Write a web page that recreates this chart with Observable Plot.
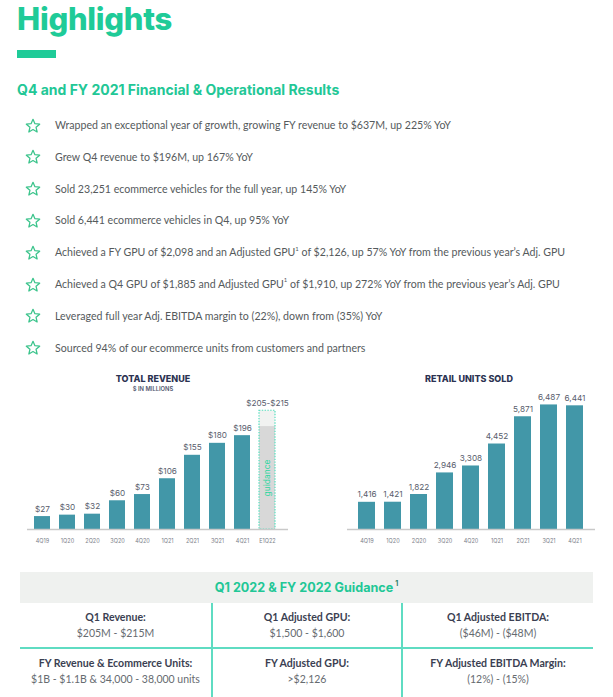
<!DOCTYPE html>
<html>
<head>
<meta charset="utf-8">
<script src="https://cdn.jsdelivr.net/npm/d3@7"></script>
<script src="https://cdn.jsdelivr.net/npm/@observablehq/plot@0.6"></script>
<style>
  html, body { margin: 0; padding: 0; background: #fff; }
  #root { position: relative; width: 613px; height: 697px; overflow: hidden; font-family: Lato, "Open Sans", sans-serif; }
  .abs { position: absolute; }
  .title { left: 17px; top: 2px; line-height: 34px; font-family: Inter, sans-serif; font-weight: 800; font-size: 31px; color: #1fcb98; letter-spacing: -0.3px; }
  .bar { left: 17px; top: 50px; width: 39px; height: 8px; background: #1fcb98; }
  .sub { left: 17px; top: 81px; line-height: 18px; font-family: Inter, sans-serif; font-weight: 700; font-size: 14px; color: #22c796; }
  .bullet { left: 55px; font-size: 10.6px; color: #555a5c; line-height: 16px; white-space: nowrap; }
  .bullet sup { font-size: 6px; line-height: 0; position: relative; top: -1px; }
  .star { left: 25px; width: 16px; height: 16px; }
  .ctitle { font-family: Inter, sans-serif; font-weight: 800; font-size: 9px; color: #2c3352; text-align: center; width: 200px; line-height: 11px; }
  .csub { font-family: Inter, sans-serif; font-weight: 600; font-size: 5.8px; color: #50566e; text-align: center; width: 200px; line-height: 8px; }
  .thead { left: 20px; top: 572px; width: 573px; height: 31px; background: #eff1ef; }
  .theadtext { left: 20px; top: 579px; width: 573px; text-align: center; font-family: Inter, sans-serif; font-weight: 700; font-size: 12.6px; color: #22c796; }
  .theadtext sup { font-size: 7px; color: #2c7d6a; vertical-align: 6px; margin-left: 2px; }
  .vline { width: 2px; background: #5fdcc2; }
  .hline { height: 2px; background: #5fdcc2; }
  .cell { text-align: center; line-height: 15.5px; }
  .cell b { display: block; font-size: 10.6px; color: #3b3f52; font-weight: 700; }
  .cell span { display: block; font-size: 10.5px; color: #666b70; }
</style>
</head>
<body>
<div id="root"></div>
<script>
// ---------- data ----------
const bullets = [
  "Wrapped an exceptional year of growth, growing FY revenue to $637M, up 225% YoY",
  "Grew Q4 revenue to $196M, up 167% YoY",
  "Sold 23,251 ecommerce vehicles for the full year, up 145% YoY",
  "Sold 6,441 ecommerce vehicles in Q4, up 95% YoY",
  "Achieved a FY GPU of $2,098 and an Adjusted GPU<sup>1</sup> of $2,126, up 57% YoY from the previous year’s Adj. GPU",
  "Achieved a Q4 GPU of $1,885 and Adjusted GPU<sup>1</sup> of $1,910, up 272% YoY from the previous year’s Adj. GPU",
  "Leveraged full year Adj. EBITDA margin to (22%), down from (35%) YoY",
  "Sourced 94% of our ecommerce units from customers and partners"
];
const quarters = ["4Q19", "1Q20", "2Q20", "3Q20", "4Q20", "1Q21", "2Q21", "3Q21", "4Q21"];
const revenue = [27, 30, 32, 60, 73, 106, 155, 180, 196];
const guidanceCategory = "E1Q22";
const guidanceRange = [205, 215];
const guidanceLabel = "$205-$215";
const guidanceBoxTop = 248;
const units = [1416, 1421, 1822, 2946, 3308, 4452, 5871, 6487, 6441];
const tableHeaders = ["Q1 Revenue:", "Q1 Adjusted GPU:", "Q1 Adjusted EBITDA:", "FY Revenue & Ecommerce Units:", "FY Adjusted GPU:", "FY Adjusted EBITDA Margin:"];
const tableValues = ["$205M - $215M", "$1,500 - $1,600", "($46M) - ($48M)", "$1B - $1.1B & 34,000 - 38,000 units", ">$2,126", "(12%) - (15%)"];

// ---------- layout ----------
const root = document.getElementById("root");
function add(cls, html, style) {
  const d = document.createElement("div");
  d.className = "abs " + cls;
  if (html != null) d.innerHTML = html;
  Object.assign(d.style, style || {});
  root.appendChild(d);
  return d;
}
add("title", "Highlights");
add("bar");
add("sub", "Q4 and FY 2021 Financial &amp; Operational Results");

const starSvg = '<svg width="16" height="16" viewBox="0 0 24 24"><polygon points="12,2 14.9,8.6 22,9.3 16.6,14 18.2,21 12,17.3 5.8,21 7.4,14 2,9.3 9.1,8.6" fill="none" stroke="#3cc48c" stroke-width="1.9" stroke-linejoin="round"/></svg>';
bullets.forEach((b, i) => {
  const yc = 125.5 + i * 31.8;
  add("star", starSvg, { top: (yc - 8) + "px" });
  add("bullet", b, { top: (yc - 8.5) + "px" });
});

// chart titles
add("ctitle", "TOTAL REVENUE", { left: (153 - 100) + "px", top: "373px" });
add("csub", "$ IN MILLIONS", { left: (153 - 100) + "px", top: "385px" });
add("ctitle", "RETAIL UNITS SOLD", { left: (469 - 100) + "px", top: "373px" });

const font = "Inter, sans-serif";
const revData = quarters.map((q, i) => ({ q, v: revenue[i] }));
const guide = [{ q: guidanceCategory, lo: guidanceRange[0], hi: guidanceRange[1], top: guidanceBoxTop }];

const revChart = Plot.plot({
  width: 300, height: 160,
  marginLeft: 27, marginRight: 12, marginTop: 10, marginBottom: 26,
  style: { fontFamily: font, background: "transparent", overflow: "visible" },
  x: { domain: [...quarters, guidanceCategory], range: [27, 282], paddingInner: 0.38, paddingOuter: 0.15, label: null },
  y: { domain: [0, 259], axis: null },
  marks: [
    Plot.barY(guide, { x: "q", y: "top", fill: "#f1f2f1" }),
    Plot.barY(guide, { x: "q", y: "hi", fill: "#d8d8d8" }),
    Plot.barY(guide, { x: "q", y: "top", fill: "none", stroke: "#55dfbf", strokeWidth: 1.2, strokeDasharray: "1.4,1.4" }),
    Plot.barY(revData, { x: "q", y: "v", fill: "#4297a8" }),
    Plot.ruleY([0], { stroke: "#c9c9c9", strokeWidth: 1.5 }),
    Plot.text(revData, { x: "q", y: "v", text: d => "$" + d.v, dy: -7.5, fontSize: 8.2, fill: "#585d6c" }),
    Plot.text(guide, { x: "q", y: "top", text: () => guidanceLabel, dy: -7.5, fontSize: 8.2, fill: "#585d6c" }),
    Plot.text(guide, { x: "q", y: d => d.hi / 2, text: () => "guidance", rotate: -90, fontSize: 8.5, fill: "#2fd6a0" }),
    Plot.axisX({ tickSize: 0, tickPadding: 10, fontSize: 5.5, fill: "#7a7e88", label: null })
  ]
});
revChart.style.position = "absolute";
revChart.style.left = "0px";
revChart.style.top = "395px";
root.appendChild(revChart);

const unitData = quarters.map((q, i) => ({ q, v: units[i] }));
const unitChart = Plot.plot({
  width: 313, height: 160,
  marginLeft: 47, marginRight: 18, marginTop: 4, marginBottom: 26,
  style: { fontFamily: font, background: "transparent", overflow: "visible" },
  x: { domain: quarters, range: [54, 288], paddingInner: 0.346, paddingOuter: 0.1, label: null },
  y: { domain: [0, 6770], axis: null },
  marks: [
    Plot.barY(unitData, { x: "q", y: "v", fill: "#4297a8" }),
    Plot.ruleY([0], { stroke: "#c9c9c9", strokeWidth: 1.5 }),
    Plot.text(unitData, { x: "q", y: "v", text: d => d3.format(",")(d.v), dy: -7.5, fontSize: 8.2, fill: "#585d6c" }),
    Plot.axisX({ tickSize: 0, tickPadding: 10, fontSize: 5.5, fill: "#7a7e88", label: null })
  ]
});
unitChart.style.position = "absolute";
unitChart.style.left = "300px";
unitChart.style.top = "395px";
root.appendChild(unitChart);

// guidance table
add("thead");
add("theadtext", "Q1 2022 &amp; FY 2022 Guidance<sup>1</sup>");
add("vline", null, { left: "211px", top: "603px", height: "94px" });
add("vline", null, { left: "401px", top: "603px", height: "94px" });
add("hline", null, { left: "20px", top: "647px", width: "573px" });
const colX = [[20, 211], [213, 401], [403, 593]];
tableHeaders.forEach((h, i) => {
  const c = colX[i % 3];
  const top = i < 3 ? 610 : 656;
  add("cell", "<b>" + h + "</b><span>" + tableValues[i] + "</span>", { left: c[0] + "px", width: (c[1] - c[0]) + "px", top: top + "px" });
});
</script>
</body>
</html>
